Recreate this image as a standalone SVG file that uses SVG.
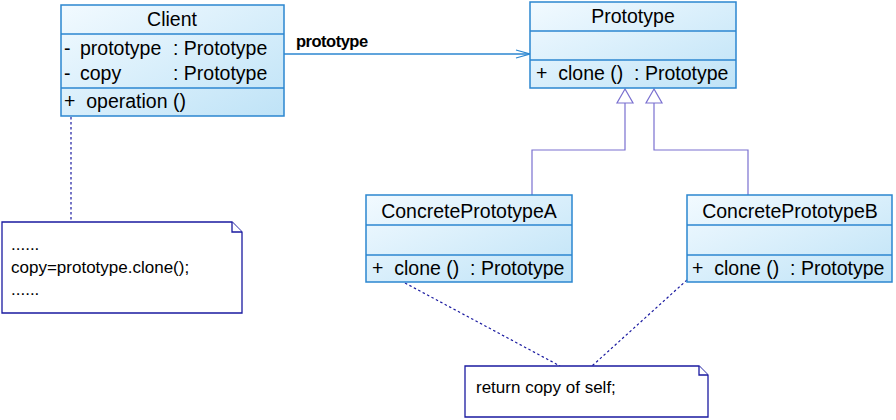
<svg xmlns="http://www.w3.org/2000/svg" width="896" height="420" viewBox="0 0 896 420">
<defs>
<linearGradient id="g" x1="0" y1="0" x2="1" y2="1">
<stop offset="0" stop-color="#f2faff"/>
<stop offset="1" stop-color="#bfe3f7"/>
</linearGradient>
<style>
.box{fill:url(#g);stroke:#2b86d0;stroke-width:1.5}
.sep{stroke:#2b86d0;stroke-width:1.5}
.t{font-family:"Liberation Sans",Arial,sans-serif;font-size:19.5px;fill:#000}
.n{font-family:"Liberation Sans",Arial,sans-serif;font-size:17px;fill:#000}
.note{fill:#fff;stroke:#1a1aa0;stroke-width:1.3}
.dot{stroke:#1a1aa0;stroke-width:1.2;stroke-dasharray:2.5,2.5;fill:none}
.gen{stroke:#7a70d0;stroke-width:1.2;fill:none}
.assoc{stroke:#2b86d0;stroke-width:1.3;fill:none}
</style>
</defs>
<rect width="896" height="420" fill="#fff"/>
<g id="connectors">
<line class="assoc" x1="284" y1="54" x2="530" y2="54"/>
<polyline class="assoc" points="516,50 530,54 516,58"/>
<text x="296" y="47" font-family="Liberation Sans,Arial,sans-serif" font-size="16.5" font-weight="bold" letter-spacing="-0.5">prototype</text>
<polyline class="gen" points="625,103 625,150 532,150 532,195"/>
<polygon class="gen" points="625,89 617,103 633,103" fill="#fff"/>
<polyline class="gen" points="654,103 654,150 748,150 748,195"/>
<polygon class="gen" points="654,89 646,103 662,103" fill="#fff"/>
<line class="dot" x1="71" y1="117" x2="71" y2="222"/>
<line class="dot" x1="405" y1="283" x2="560" y2="366"/>
<line class="dot" x1="687" y1="280" x2="592" y2="366"/>
</g>
<g id="client">
<rect class="box" x="61" y="5" width="223" height="111"/>
<line class="sep" x1="61" y1="34" x2="284" y2="34"/>
<line class="sep" x1="61" y1="88" x2="284" y2="88"/>
<text class="t" x="172" y="26" text-anchor="middle">Client</text>
<text class="t" x="64" y="55">-</text><text class="t" x="80" y="55">prototype</text><text class="t" x="173" y="55">: Prototype</text>
<text class="t" x="64" y="80">-</text><text class="t" x="80" y="80">copy</text><text class="t" x="173" y="80">: Prototype</text>
<text class="t" x="64" y="108" xml:space="preserve">+  operation ()</text>
</g>
<g id="prototype">
<rect class="box" x="530" y="2" width="206" height="86"/>
<line class="sep" x1="530" y1="31" x2="736" y2="31"/>
<line class="sep" x1="530" y1="60" x2="736" y2="60"/>
<text class="t" x="633" y="23" text-anchor="middle">Prototype</text>
<text class="t" x="536" y="80" xml:space="preserve">+  clone ()  : Prototype</text>
</g>
<g id="concreteA">
<rect class="box" x="366" y="195" width="206" height="87"/>
<line class="sep" x1="366" y1="225" x2="572" y2="225"/>
<line class="sep" x1="366" y1="255" x2="572" y2="255"/>
<text class="t" x="469" y="218" text-anchor="middle">ConcretePrototypeA</text>
<text class="t" x="372" y="275" xml:space="preserve">+  clone ()  : Prototype</text>
</g>
<g id="concreteB">
<rect class="box" x="687" y="195" width="205" height="87"/>
<line class="sep" x1="687" y1="225" x2="892" y2="225"/>
<line class="sep" x1="687" y1="255" x2="892" y2="255"/>
<text class="t" x="790" y="218" text-anchor="middle">ConcretePrototypeB</text>
<text class="t" x="692" y="275" xml:space="preserve">+  clone ()  : Prototype</text>
</g>
<g id="note1">
<path class="note" d="M2,222 H232 L242,232 V313 H2 Z"/>
<path class="note" d="M232,222 V232 H242" fill="none"/>
<text class="n" x="11" y="250">......</text>
<text class="n" x="11" y="273">copy=prototype.clone();</text>
<text class="n" x="11" y="295">......</text>
</g>
<g id="note2">
<path class="note" d="M465,366 H699 L708,375 V417 H465 Z"/>
<path class="note" d="M699,366 V375 H708" fill="none"/>
<text class="n" x="476" y="393">return copy of self;</text>
</g>
</svg>
